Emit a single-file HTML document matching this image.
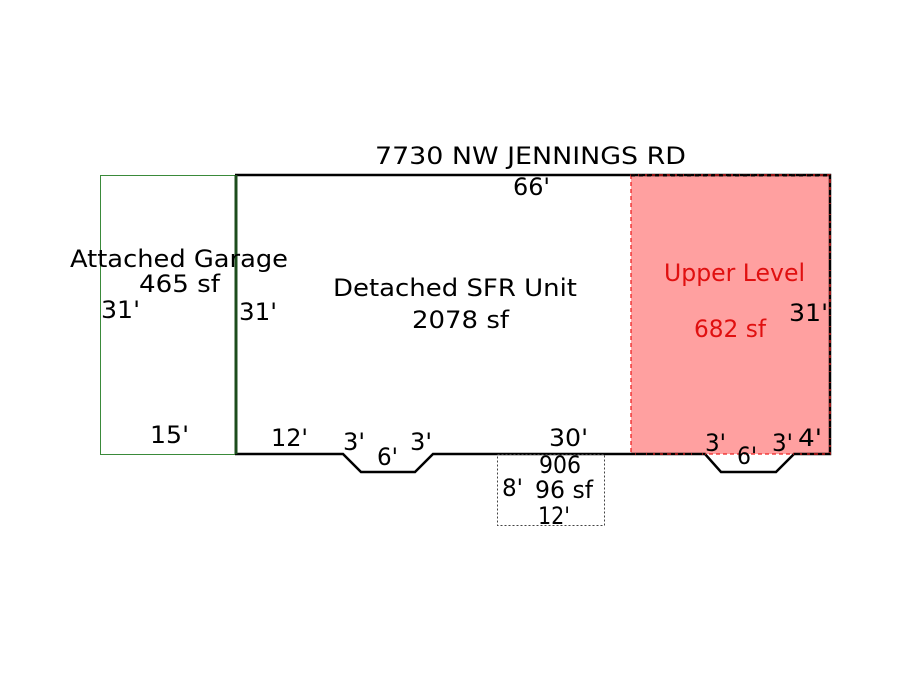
<!DOCTYPE html>
<html><head><meta charset="utf-8"><style>
html,body{margin:0;padding:0;background:#fff;width:900px;height:675px;overflow:hidden}
svg{display:block}
text{font-family:"DejaVu Sans","Liberation Sans",sans-serif;font-size:24px;fill:#000}
</style></head><body>
<svg width="900" height="675" viewBox="0 0 900 675" xmlns="http://www.w3.org/2000/svg">
<rect width="900" height="675" fill="#fff"/>
<rect x="100.5" y="175.5" width="135" height="279" fill="none" stroke="#3a8a3a" stroke-width="1"/>
<rect x="631" y="175" width="199" height="279" fill="#ffa0a0"/>
<polyline points="235,175 830,175 830,454 794,454 776,472 721,472 705,454 433,454 415,472 361,472 343,454 235,454" fill="none" stroke="#000" stroke-width="2.5"/>
<line x1="236" y1="175" x2="236" y2="454" stroke="#1d4d1d" stroke-width="3"/>
<rect x="631" y="175" width="199" height="279" fill="none" stroke="#e22" stroke-width="1.3" stroke-dasharray="4,3"/>
<line x1="631" y1="175.5" x2="830" y2="175.5" stroke="#000" stroke-width="2" stroke-dasharray="4,4"/>
<line x1="830" y1="175" x2="830" y2="454" stroke="#000" stroke-width="2" stroke-dasharray="4,4"/>
<line x1="631" y1="454" x2="705" y2="454" stroke="#000" stroke-width="2" stroke-dasharray="4,4"/>
<line x1="794" y1="454" x2="830" y2="454" stroke="#000" stroke-width="2" stroke-dasharray="4,4"/>
<rect x="497.5" y="454.5" width="107" height="71" fill="none" stroke="#444" stroke-width="1" stroke-dasharray="2,2"/>
<text x="375" y="164" textLength="311" lengthAdjust="spacingAndGlyphs">7730 NW JENNINGS RD</text>
<text x="513" y="195" textLength="37" lengthAdjust="spacingAndGlyphs">66'</text>
<text x="70" y="267" textLength="218" lengthAdjust="spacingAndGlyphs">Attached Garage</text>
<text x="139" y="292" textLength="81" lengthAdjust="spacingAndGlyphs">465 sf</text>
<text x="101" y="318" textLength="39" lengthAdjust="spacingAndGlyphs">31'</text>
<text x="239" y="320" textLength="38" lengthAdjust="spacingAndGlyphs">31'</text>
<text x="333" y="296" textLength="244" lengthAdjust="spacingAndGlyphs">Detached SFR Unit</text>
<text x="412" y="328" textLength="97" lengthAdjust="spacingAndGlyphs">2078 sf</text>
<text x="664" y="281" textLength="141" lengthAdjust="spacingAndGlyphs" style="fill:#e01010">Upper Level</text>
<text x="694" y="337" textLength="72" lengthAdjust="spacingAndGlyphs" style="fill:#e01010">682 sf</text>
<text x="789" y="321" textLength="39" lengthAdjust="spacingAndGlyphs">31'</text>
<text x="150" y="443" textLength="39" lengthAdjust="spacingAndGlyphs">15'</text>
<text x="271" y="446" textLength="37" lengthAdjust="spacingAndGlyphs">12'</text>
<text x="343" y="450" textLength="22" lengthAdjust="spacingAndGlyphs">3'</text>
<text x="377" y="465" textLength="21" lengthAdjust="spacingAndGlyphs">6'</text>
<text x="410" y="450" textLength="22" lengthAdjust="spacingAndGlyphs">3'</text>
<text x="549" y="446" textLength="39" lengthAdjust="spacingAndGlyphs">30'</text>
<text x="539" y="473" textLength="42" lengthAdjust="spacingAndGlyphs">906</text>
<text x="502" y="496" textLength="21" lengthAdjust="spacingAndGlyphs">8'</text>
<text x="535" y="498" textLength="58" lengthAdjust="spacingAndGlyphs">96 sf</text>
<text x="538" y="524" textLength="32" lengthAdjust="spacingAndGlyphs">12'</text>
<text x="705" y="451" textLength="21" lengthAdjust="spacingAndGlyphs">3'</text>
<text x="737" y="464" textLength="20" lengthAdjust="spacingAndGlyphs">6'</text>
<text x="772" y="451" textLength="21" lengthAdjust="spacingAndGlyphs">3'</text>
<text x="798" y="446" textLength="24" lengthAdjust="spacingAndGlyphs">4'</text>
</svg>
</body></html>
